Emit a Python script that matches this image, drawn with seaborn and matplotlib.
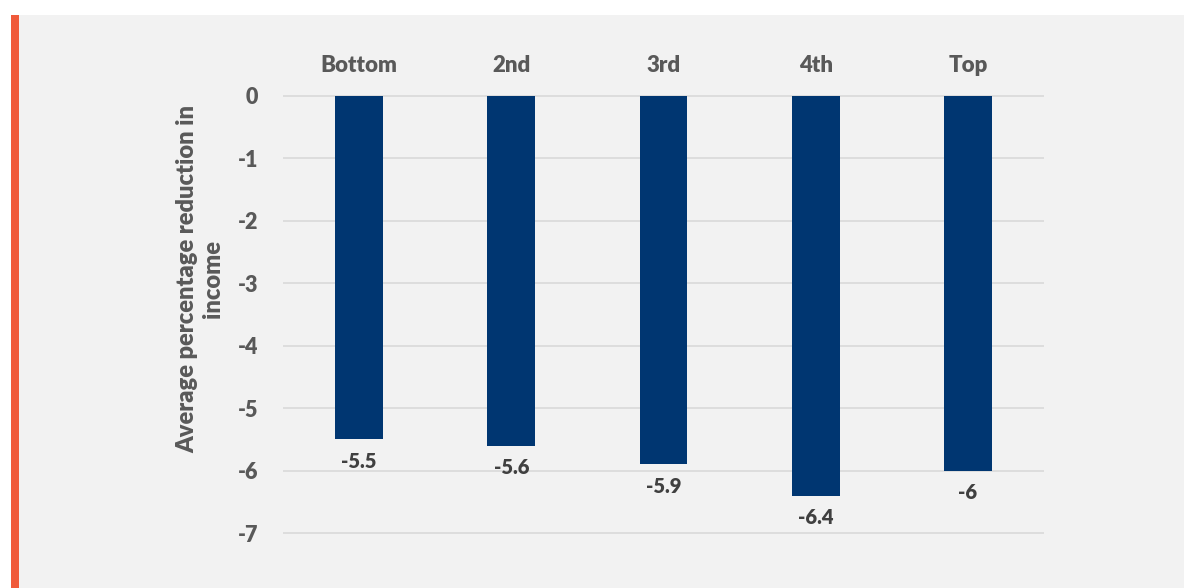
import matplotlib
matplotlib.use("Agg")
import matplotlib.pyplot as plt
from matplotlib.patches import Rectangle
import seaborn as sns
import pandas as pd

# Income quintiles and the average percentage change in income
quintiles = ["Bottom", "2nd", "3rd", "4th", "Top"]
reduction = [-5.5, -5.6, -5.9, -6.4, -6.0]
value_labels = ["-5.5", "-5.6", "-5.9", "-6.4", "-6"]
y_ticks = [0, -1, -2, -3, -4, -5, -6, -7]

sns.set_theme(style="white")
plt.rcParams["font.family"] = ["Lato", "DejaVu Sans"]

TEXT = "#595959"
BAR = "#003671"
PANEL = "#f2f2f2"
WEIGHT = "heavy"

W, H = 1184, 588
fig = plt.figure(figsize=(W / 100, H / 100), dpi=100, facecolor="white")

# Grey panel with an accent strip down the left edge (drawn beneath the axes)
fig.patches.append(Rectangle((11 / W, 0), 1 - 11 / W, 1 - 15 / H,
                             transform=fig.transFigure, facecolor=PANEL,
                             edgecolor="none", zorder=-2))
fig.patches.append(Rectangle((11 / W, 0), 8 / W, 1 - 15 / H,
                             transform=fig.transFigure, facecolor="#f05a3a",
                             edgecolor="none", zorder=-1))

ax_left, ax_right = 283 / W, 1044 / W
ax_top, ax_bottom = 1 - 95 / H, 1 - 534 / H
ax = fig.add_axes([ax_left, ax_bottom, ax_right - ax_left, ax_top - ax_bottom])
ax.set_facecolor("none")

df = pd.DataFrame({"quintile": quintiles, "value": reduction})
sns.barplot(data=df, x="quintile", y="value", color=BAR, width=0.315,
            saturation=1, linewidth=0, ax=ax, zorder=3)

ax.set_ylim(-7.016, 0.016)
ax.set_yticks(y_ticks)
ax.set_yticklabels([str(t) for t in y_ticks], fontweight=WEIGHT)
ax.set_xticks(range(len(quintiles)))
ax.set_xticklabels(quintiles, fontweight=WEIGHT)
ax.yaxis.grid(True, color="#d9d9d9", linewidth=1.2, zorder=0)
ax.xaxis.grid(False)
for s in ax.spines.values():
    s.set_visible(False)

ax.xaxis.tick_top()
ax.tick_params(axis="x", length=0, pad=14, labelsize=16, labelcolor=TEXT)
ax.tick_params(axis="y", length=0, pad=18, labelsize=15.5, labelcolor=TEXT)
ax.set_xlabel("")

ax.set_ylabel("Average percentage reduction in\nincome", fontsize=17,
              fontweight=WEIGHT, color=TEXT, linespacing=1.2)
ax.yaxis.set_label_coords(-0.078, 0.58)

# Value labels just below each bar end
for i, (v, txt) in enumerate(zip(reduction, value_labels)):
    ax.annotate(txt, (i, v), xytext=(0, -16), textcoords="offset points",
                ha="center", va="center", fontsize=14.5, fontweight=WEIGHT,
                color="#404040")

fig.savefig("out.png", dpi=100, facecolor="white")
